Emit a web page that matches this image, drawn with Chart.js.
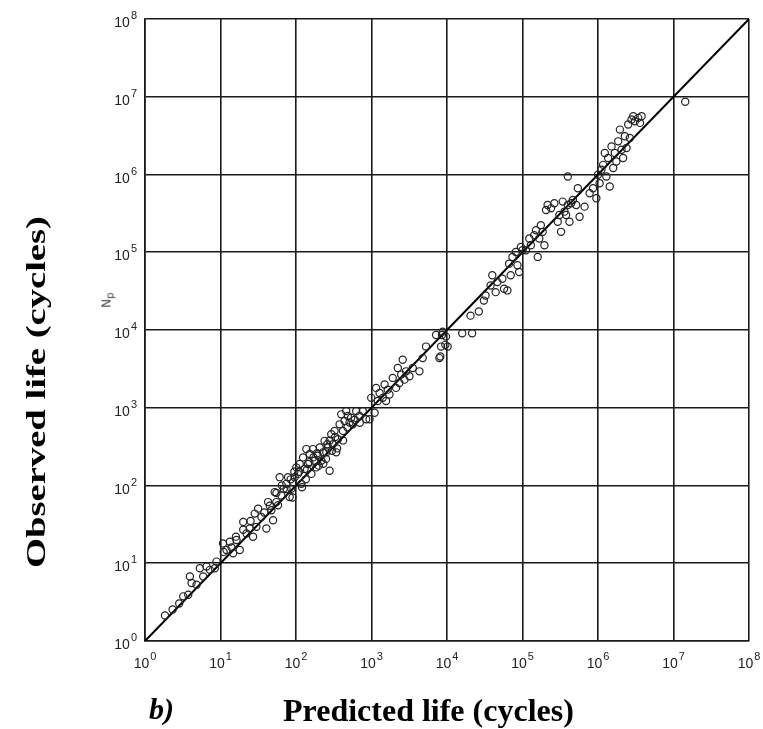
<!DOCTYPE html>
<html>
<head>
<meta charset="utf-8">
<script src="https://cdn.jsdelivr.net/npm/chart.js@4.4.1/dist/chart.umd.min.js"></script>
<style>
  html, body { margin: 0; padding: 0; background: #fff; }
  #wrap { position: relative; width: 763px; height: 729px; background: #fff; overflow: hidden; }
  #chart { position: absolute; left: 0; top: 0; }
  .title { position: absolute; font-family: "Liberation Serif", "Times New Roman", serif; font-weight: bold; color: #000; white-space: nowrap; line-height: 1; }
  #ytitle { left: 36px; top: 392px; font-size: 28px; transform: translate(-50%, -50%) rotate(-90deg) scaleX(1.38); }
  #xtitle { left: 283px; top: 694px; font-size: 32px; }
  #blabel { left: 149px; top: 694px; font-size: 30px; font-style: italic; }
  #np { position: absolute; left: 100px; top: 292px; font-family: "DejaVu Sans", sans-serif; font-size: 12px; color: #444; transform: rotate(-90deg); }
</style>
</head>
<body>
<div id="wrap">
  <canvas id="chart" width="763" height="729"></canvas>
  <div class="title" id="ytitle">Observed life (cycles)</div>
  <div class="title" id="blabel">b)</div>
  <div class="title" id="xtitle">Predicted life (cycles)</div>
  <div id="np">N<sub>p</sub></div>
</div>
<script>
// decade ticks on both axes
const tickValues = [1, 10, 100, 1e3, 1e4, 1e5, 1e6, 1e7, 1e8];
const tickExponents = ['0', '1', '2', '3', '4', '5', '6', '7', '8'];

// predicted life (x) and observed life (y)
const predicted = [
  1.84, 2.32, 2.84, 3.21, 3.74, 3.93, 4.14, 4.82, 5.33, 5.90, 6.53, 7.23, 8.41, 8.85,
  10.8, 12.0, 13.3, 14.7, 16.3, 18.0, 20.0, 22.1, 24.4, 27.0, 28.4, 29.9, 31.5, 34.8,
  40.5, 42.7, 47.2, 49.7, 52.2, 55.0, 57.8, 60.8, 64.0, 68.7, 74.5, 78.3, 82.4, 86.7,
  91.2, 95.9, 101, 106, 112, 118, 124, 130, 137, 144, 152, 160, 168, 177, 186, 195,
  206, 216, 228, 239, 252, 265, 279, 293, 308, 324, 341, 359, 378, 397, 418, 440,
  462, 486, 512, 538, 566, 627, 693, 767, 851, 942, 991, 1100, 1150, 1210, 1280,
  1410, 1490, 1560, 1640, 1730, 1910, 2120, 2230, 2340, 2470, 2590, 2730, 2870,
  3180, 3520, 4310, 4770, 5270, 7160, 7930, 8340, 8770, 9700, 10200,
  110, 135, 150, 190, 230, 260, 300, 330, 420, 480, 600, 700, 75, 90, 65, 45, 38,
  25, 20, 16, 14, 11, 170, 200, 120, 85, 55, 250, 140, 95, 350, 280,
  20500, 26400, 30800, 32400, 37800, 39800, 44100, 46500, 54100, 57000, 63100,
  66400, 69800, 73600, 81500, 85700, 90300, 95100, 100000, 111000, 123000, 129000,
  143000, 151000, 159000, 167000, 175000, 185000, 195000, 205000, 215000, 239000,
  264000, 293000, 308000, 324000, 341000, 360000, 378000, 398000, 419000, 441000,
  465000, 514000, 541000, 570000, 664000, 398000, 775000, 858000, 951000, 1000000,
  1050000, 1110000, 1170000, 1230000, 1290000, 1360000, 1430000, 1510000, 1590000,
  1670000, 1750000, 1850000, 1950000, 2050000, 2150000, 2270000, 2390000, 2510000,
  2640000, 2780000, 2930000, 3080000, 3410000, 3600000, 3780000, 14300000,
  8580, 9500, 15900, 21500, 8150
];
const observed = [
  2.13, 2.54, 3.03, 3.75, 3.94, 6.76, 5.56, 5.29, 8.63, 6.76, 9.06, 8.22, 8.63, 10.5,
  18.0, 14.8, 18.9, 13.4, 19.9, 14.8, 34.0, 24.2, 28.0, 21.9, 43.5, 29.4, 50.4, 39.4,
  28.0, 61.2, 48.0, 35.7, 82.2, 61.2, 55.6, 128, 74.5, 90.6, 105, 128, 71.0, 90.6,
  110, 128, 171, 141, 189, 105, 230, 163, 294, 189, 254, 141, 294, 208, 171, 242,
  308, 208, 267, 375, 267, 308, 155, 457, 340, 504, 267, 394, 612, 822, 504, 676,
  906, 783, 644, 745, 612, 906, 783, 906, 710, 710, 1340, 863, 1800, 1220, 1550,
  1340, 1990, 1220, 1710, 1480, 2420, 1800, 3240, 2080, 2670, 4140, 2300, 2940,
  2540, 3240, 2940, 4350, 6120, 8630, 4350, 6120, 9530, 8220, 6120,
  150, 120, 200, 260, 190, 340, 280, 420, 380, 560, 700, 640, 90, 70, 100, 55, 45,
  35, 27, 22, 16, 14, 230, 180, 95, 120, 80, 220, 160, 150, 300, 380,
  15300, 17300, 23900, 27800, 37400, 50500, 30700, 41300, 45600, 33900, 32300,
  71300, 50500, 87100, 101000, 67900, 55700, 117000, 106000, 106000, 150000, 123000,
  166000, 192000, 87100, 150000, 223000, 183000, 123000, 349000, 406000, 367000,
  426000, 247000, 301000, 183000, 448000, 333000, 301000, 406000, 247000, 426000,
  470000, 406000, 665000, 286000, 386000, 942000, 574000, 665000, 494000, 991000,
  773000, 1150000, 1330000, 1890000, 942000, 1630000, 700000, 2300000, 1210000,
  1890000, 1470000, 2670000, 3780000, 2080000, 1630000, 3100000, 2190000, 4390000,
  2950000, 5090000, 5620000, 4840000, 5350000, 4610000, 5620000, 8610000,
  8630, 6440, 9060, 9060, 4570
];

// the 1:1 line
const lineX = [1, 1e8];
const lineY = [1, 1e8];

const points = predicted.map((p, i) => ({ x: p, y: observed[i] }));
const diagonal = lineX.map((v, i) => ({ x: v, y: lineY[i] }));

// draws "10" with a raised exponent at each decade, placed by the chart's scales
const powerLabels = {
    id: 'powerLabels',
    afterDraw(chart) {
        const ctx = chart.ctx;
        const xs = chart.scales.x, ys = chart.scales.y;
        const base = '14px "Liberation Sans", sans-serif';
        const sup = '11px "Liberation Sans", sans-serif';
        ctx.save();
        ctx.fillStyle = '#222';
        ctx.textBaseline = 'alphabetic';
        tickValues.forEach((v, i) => {
            ctx.font = base;
            const wBase = ctx.measureText('10').width;
            ctx.font = sup;
            const wSup = ctx.measureText(tickExponents[i]).width;
            const total = wBase + wSup + 1;

            // x axis label, centred under the grid line
            const px = xs.getPixelForValue(v);
            let left = px - total / 2;
            ctx.font = base;
            ctx.fillText('10', left, xs.top + 27);
            ctx.font = sup;
            ctx.fillText(tickExponents[i], left + wBase + 1, xs.top + 19);

            // y axis label, right aligned left of the plot
            const py = ys.getPixelForValue(v);
            left = ys.right - 8 - total;
            ctx.font = base;
            ctx.fillText('10', left, py + 8);
            ctx.font = sup;
            ctx.fillText(tickExponents[i], left + wBase + 1, py);
        });
        ctx.restore();
    }
};

const gridStyle = { color: '#1a1a1a', lineWidth: 1.6, drawTicks: false };

new Chart(document.getElementById('chart'), {
    type: 'scatter',
    data: {
        datasets: [
            {
                data: points,
                pointStyle: 'circle',
                pointRadius: 3.6,
                borderColor: '#222',
                borderWidth: 1.2,
                backgroundColor: 'rgba(0,0,0,0)'
            },
            {
                data: diagonal,
                showLine: true,
                borderColor: '#000',
                borderWidth: 2,
                pointRadius: 0
            }
        ]
    },
    options: {
        responsive: false,
        animation: false,
        layout: { padding: { top: 19, right: 14, left: 0, bottom: 0 } },
        plugins: { legend: { display: false }, tooltip: { enabled: false } },
        scales: {
            x: {
                type: 'logarithmic',
                min: 1,
                max: 1e8,
                afterBuildTicks: (axis) => { axis.ticks = tickValues.map(v => ({ value: v })); },
                afterFit: (axis) => { axis.height = 88; },
                grid: gridStyle,
                border: { color: '#1a1a1a', width: 1.6 },
                ticks: { display: false }
            },
            y: {
                type: 'logarithmic',
                min: 1,
                max: 1e8,
                afterBuildTicks: (axis) => { axis.ticks = tickValues.map(v => ({ value: v })); },
                afterFit: (axis) => { axis.width = 145; },
                grid: gridStyle,
                border: { color: '#1a1a1a', width: 1.6 },
                ticks: { display: false }
            }
        }
    },
    plugins: [powerLabels]
});
</script>
</body>
</html>
